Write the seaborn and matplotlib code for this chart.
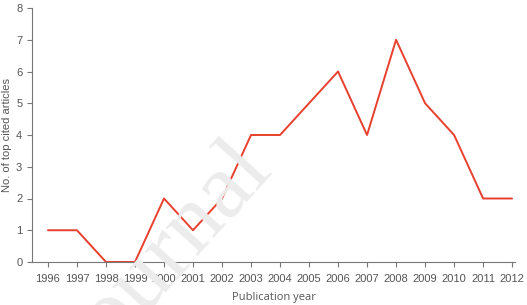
import matplotlib
matplotlib.use("Agg")
import matplotlib.pyplot as plt
import seaborn as sns
import pandas as pd

years = list(range(1996, 2013))
counts = [1, 1, 0, 0, 2, 1, 2, 4, 4, 5, 6, 4, 7, 5, 4, 2, 2]
y_ticks = [0, 1, 2, 3, 4, 5, 6, 7, 8]

sns.set_style("ticks")
plt.rcParams['font.family'] = ['Liberation Sans', 'DejaVu Sans']

df = pd.DataFrame({"year": years, "count": counts})

fig = plt.figure(figsize=(5.27, 3.05), dpi=100)
ax = fig.add_axes([32/527, 43/305, (515-32)/527, (262-8)/305])

grey = "#555555"
fig.text(0.31, 0.15, "Journal", fontsize=68, family="Liberation Serif", color="#ececec",
         rotation=48, ha="center", va="center", zorder=0)
ax.patch.set_alpha(0)

sns.lineplot(data=df, x="year", y="count", color="#e8402e", linewidth=1.4, ax=ax)

ax.set_xlim(1995.45, 2012.1)
ax.set_ylim(0, 8)
ax.set_xticks(years)
ax.set_xticklabels([str(y) for y in years])
ax.set_yticks(y_ticks)
sns.despine(ax=ax)
for s in ["left", "bottom"]:
    ax.spines[s].set_color("#777777")
    ax.spines[s].set_linewidth(0.8)
ax.tick_params(axis="both", colors="#777777", labelcolor=grey, labelsize=8, length=3.5, width=0.8)
ax.tick_params(axis="x", pad=5)
ax.set_xlabel("Publication year", fontsize=8, color=grey, labelpad=6, family=["Open Sans", "DejaVu Sans"])
ax.set_ylabel("No. of top cited articles", fontsize=8, color=grey, va="center")
ax.yaxis.set_label_coords((7 - 32) / 483, 0.5)

fig.savefig("out.png", dpi=100)
